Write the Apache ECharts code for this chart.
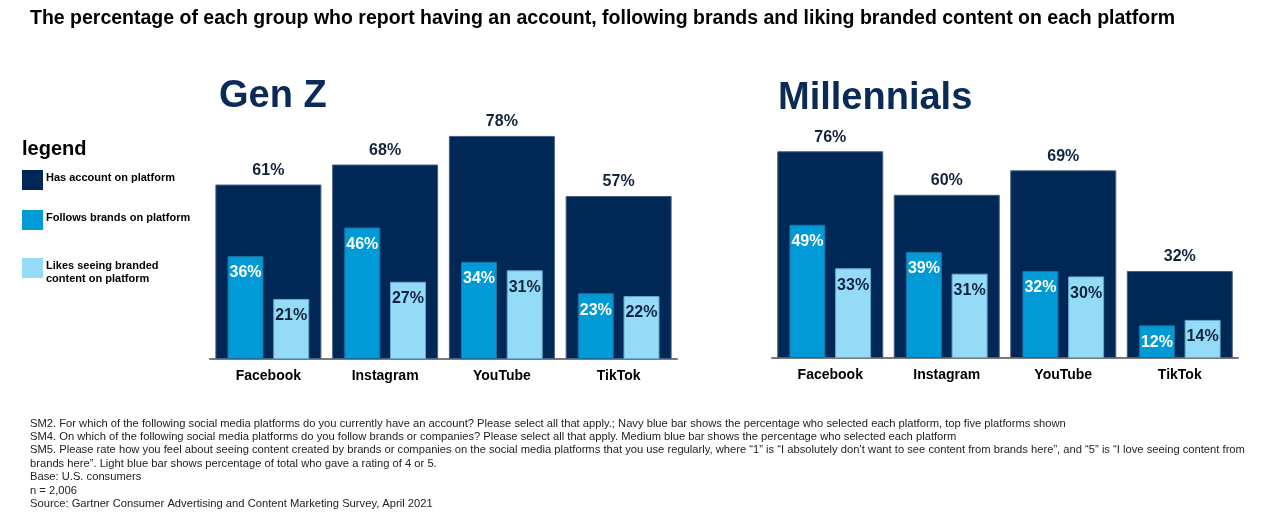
<!DOCTYPE html>
<html>
<head>
<meta charset="utf-8">
<script src="https://cdn.jsdelivr.net/npm/echarts@6/dist/echarts.min.js"></script>
<style>
  html, body { margin: 0; padding: 0; background: #fff; }
  #main { width: 1285px; height: 529px; }
</style>
</head>
<body>
<div id="main"></div>
<script>
const platforms = ['Facebook', 'Instagram', 'YouTube', 'TikTok'];

// Gen Z
const genZAccount = [61, 68, 78, 57];
const genZFollows = [36, 46, 34, 23];
const genZLikes = [21, 27, 31, 22];

// Millennials
const millAccount = [76, 60, 69, 32];
const millFollows = [49, 39, 32, 12];
const millLikes = [33, 31, 30, 14];

const legendNames = ['Has account on platform', 'Follows brands on platform', 'Likes seeing branded\ncontent on platform'];

const footnotes = [
  'SM2. For which of the following social media platforms do you currently have an account? Please select all that apply.; Navy blue bar shows the percentage who selected each platform, top five platforms shown',
  'SM4. On which of the following social media platforms do you follow brands or companies? Please select all that apply. Medium blue bar shows the percentage who selected each platform',
  'SM5. Please rate how you feel about seeing content created by brands or companies on the social media platforms that you use regularly, where \u201c1\u201d is \u201cI absolutely don\u2019t want to see content from brands here\u201d, and \u201c5\u201d is \u201cI love seeing content from',
  'brands here\u201d. Light blue bar shows percentage of total who gave a rating of 4 or 5.',
  'Base: U.S. consumers',
  'n = 2,006',
  'Source: Gartner Consumer Advertising and Content Marketing Survey, April 2021'
];

const NAVY = '#002856';
const MEDIUM = '#009ad6';
const LIGHT = '#93dbf7';
const TEXT_NAVY = '#13223f';
const FONT = 'Liberation Sans, Arial, sans-serif';

const chart = echarts.init(document.getElementById('main'));

function xAxes(gridIndex, show) {
  return {
    type: 'category',
    gridIndex: gridIndex,
    data: platforms,
    show: show,
    axisLine: { show: true, lineStyle: { color: '#7a7a7a', width: 2 } },
    axisTick: { show: false },
    axisLabel: { color: '#000', fontFamily: FONT, fontWeight: 'bold', fontSize: 14, margin: 10 }
  };
}

function yAxis(gridIndex) {
  return { type: 'value', gridIndex: gridIndex, min: 0, max: 100, show: false, splitLine: { show: false } };
}

function groupSeries(name, account, follows, likes, axisBase, yIndex) {
  return [
    {
      name: legendNames[0] + name,
      type: 'bar',
      xAxisIndex: axisBase, yAxisIndex: yIndex,
      data: account,
      barWidth: 106,
      itemStyle: { color: NAVY, borderColor: '#4b5f80', borderWidth: 1 },
      label: { show: true, position: 'top', distance: 6, formatter: '{c}%', color: TEXT_NAVY, fontFamily: FONT, fontWeight: 'bold', fontSize: 16 },
      silent: true, z: 1
    },
    {
      name: legendNames[1] + name,
      type: 'bar',
      xAxisIndex: axisBase + 1, yAxisIndex: yIndex,
      data: follows,
      barWidth: 36,
      barGap: '27%',
      itemStyle: { color: MEDIUM, borderColor: '#1c6f9e', borderWidth: 1 },
      label: { show: true, position: 'insideTop', distance: 9, formatter: '{c}%', color: '#fff', fontFamily: FONT, fontWeight: 'bold', fontSize: 16 },
      silent: true, z: 2
    },
    {
      name: legendNames[2] + name,
      type: 'bar',
      xAxisIndex: axisBase + 1, yAxisIndex: yIndex,
      data: likes,
      barWidth: 36,
      barGap: '27%',
      itemStyle: { color: LIGHT, borderColor: '#6aa7cc', borderWidth: 1 },
      label: { show: true, position: 'insideTop', distance: 9, formatter: '{c}%', color: TEXT_NAVY, fontFamily: FONT, fontWeight: 'bold', fontSize: 16 },
      silent: true, z: 2
    }
  ];
}

// legend boxes and texts drawn by hand (uneven spacing in the original)
const legendGraphics = [
  { type: 'text', left: 22, top: 139, style: { text: 'legend', font: 'bold 20px ' + FONT, fill: '#000' } }
];
const legendColors = [NAVY, MEDIUM, LIGHT];
const legendTops = [170, 210, 258];
legendNames.forEach((n, i) => {
  legendGraphics.push({ type: 'rect', shape: { x: 22, y: legendTops[i], width: 21, height: 20 }, style: { fill: legendColors[i] } });
  legendGraphics.push({ type: 'text', left: 46, top: legendTops[i] + 1, style: { text: n, font: 'bold 11px ' + FONT, fill: '#000', lineHeight: 13 } });
});

const footGraphics = footnotes.map((t, i) => ({
  type: 'text', left: 30, top: 418 + i * 13.4,
  style: { text: t, font: '11.2px ' + FONT, fill: '#222' }
}));

const option = {
  animation: false,
  title: {
    text: 'The percentage of each group who report having an account, following brands and liking branded content on each platform',
    left: 25, top: 4,
    textStyle: { color: '#000', fontFamily: FONT, fontWeight: 'bold', fontSize: 19.5 }
  },
  grid: [
    { left: 210, top: 73, width: 467, height: 286 },
    { left: 772, top: 86, width: 466, height: 272 }
  ],
  xAxis: [xAxes(0, true), xAxes(0, false), xAxes(1, true), xAxes(1, false)],
  yAxis: [yAxis(0), yAxis(1)],
  series: [].concat(
    groupSeries(' (Gen Z)', genZAccount, genZFollows, genZLikes, 0, 0),
    groupSeries(' (Millennials)', millAccount, millFollows, millLikes, 2, 1)
  ),
  graphic: [
    { type: 'text', left: 219, top: 78, style: { text: 'Gen Z', font: 'bold 38px ' + FONT, fill: '#0a2a57' } },
    { type: 'text', left: 778, top: 80, style: { text: 'Millennials', font: 'bold 38px ' + FONT, fill: '#0a2a57' } }
  ].concat(legendGraphics, footGraphics)
};

chart.setOption(option);
</script>
</body>
</html>
